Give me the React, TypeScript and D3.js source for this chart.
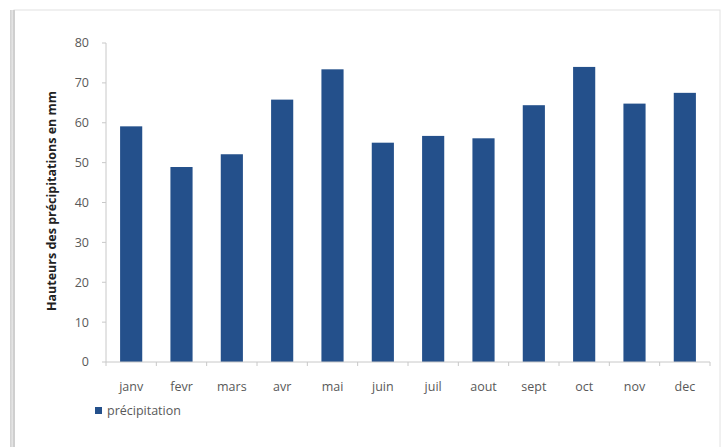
import React from "react";
import * as d3 from "d3";

const months = ["janv", "fevr", "mars", "avr", "mai", "juin", "juil", "aout", "sept", "oct", "nov", "dec"];
const precipitation = [59.1, 48.9, 52.1, 65.8, 73.4, 55.0, 56.7, 56.1, 64.4, 74.0, 64.8, 67.5];
const yTicks = [0, 10, 20, 30, 40, 50, 60, 70, 80];
const seriesName = "précipitation";
const yTitle = "Hauteurs des précipitations en mm";

export default function App() {
  const W = 726, H = 447;
  const x0 = 106, x1 = 710, yTop = 43, yBot = 362;
  const x = d3.scaleBand<string>().domain(months).range([x0, x1]).paddingInner(0.56).paddingOuter(0.28);
  const y = d3.scaleLinear().domain([0, 80]).range([yBot, yTop]);
  const step = (x1 - x0) / months.length;
  const axisColor = "#c8c8c8";
  const textColor = "#595959";
  const font = "'Open Sans', 'Liberation Sans', sans-serif";
  return (
    <svg width={W} height={H} style={{ position: "absolute", left: 0, top: 0, background: "#fff" }}>
      <defs>
        <linearGradient id="shadow" x1="0" x2="1">
          <stop offset="0" stopColor="#d0d0d0" />
          <stop offset="1" stopColor="#ffffff" />
        </linearGradient>
      </defs>
      <rect x={10} y={10} width={6} height={H} fill="url(#shadow)" />
      <rect x={14} y={10} width={706} height={H} fill="#fff" stroke="#e2e2e2" strokeWidth={1} />
      <rect x={13} y={10} width={2} height={H} fill="#cfcfcf" />
      {/* y axis */}
      <line x1={x0} x2={x0} y1={yTop} y2={yBot} stroke={axisColor} />
      {yTicks.map((t) => (
        <g key={t}>
          <line x1={x0 - 4} x2={x0} y1={y(t)} y2={y(t)} stroke={axisColor} />
          <text x={89} y={y(t)} dy="0.35em" textAnchor="end" fontFamily={font} fontSize={12.5} fill={textColor}>
            {t}
          </text>
        </g>
      ))}
      {/* bars */}
      {months.map((m, i) => (
        <rect key={m} x={x(m)} y={y(precipitation[i])} width={x.bandwidth()} height={yBot - y(precipitation[i])} fill="#24508b" />
      ))}
      {/* x axis */}
      <line x1={x0} x2={x1} y1={yBot} y2={yBot} stroke={axisColor} />
      {d3.range(months.length + 1).map((i) => (
        <line key={i} x1={x0 + i * step} x2={x0 + i * step} y1={yBot} y2={yBot + 4} stroke={axisColor} />
      ))}
      {months.map((m) => (
        <text key={m} x={(x(m) as number) + x.bandwidth() / 2} y={391} textAnchor="middle" fontFamily={font} fontSize={12.5} fill={textColor}>
          {m}
        </text>
      ))}
      {/* y title */}
      <text transform={`translate(56,201) rotate(-90)`} textAnchor="middle" fontFamily={font} fontSize={12.5} fontWeight="bold" fill="#222">
        {yTitle}
      </text>
      {/* legend */}
      <rect x={95} y={407} width={7} height={7} fill="#24508b" />
      <text x={107} y={415} fontFamily={font} fontSize={12.5} fill={textColor}>
        {seriesName}
      </text>
    </svg>
  );
}
